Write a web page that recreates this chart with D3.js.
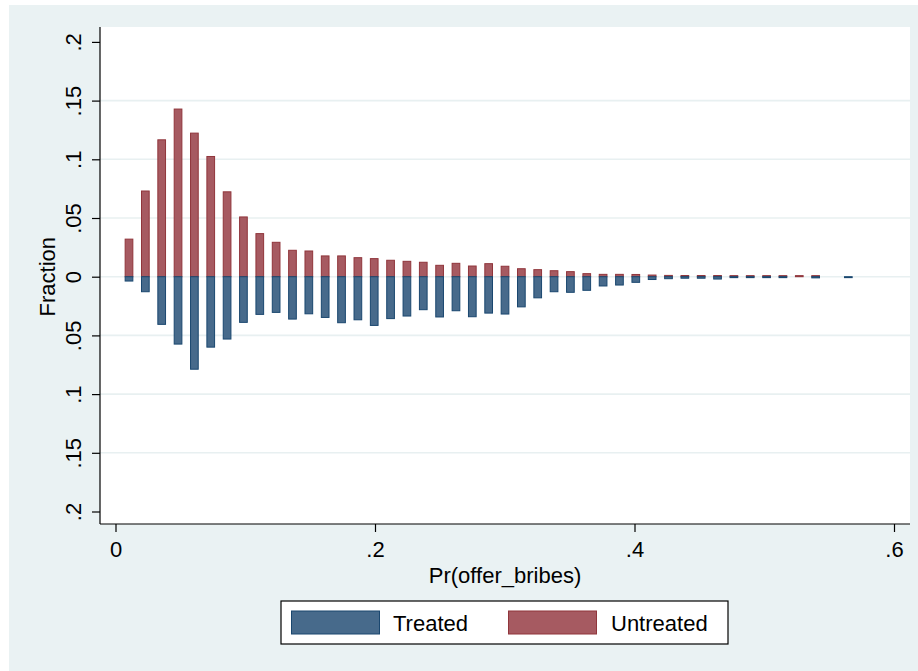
<!DOCTYPE html>
<html>
<head>
<meta charset="utf-8">
<script src="https://cdn.jsdelivr.net/npm/d3@7"></script>
<style>
  html, body { margin: 0; padding: 0; background: #ffffff; }
  svg { display: block; }
  text { font-family: "Liberation Sans", Arial, Helvetica, sans-serif; fill: #000; }
</style>
</head>
<body>
<svg id="chart" width="918" height="671"></svg>
<script>
// Bin midpoints of Pr(offer_bribes)
const binMids = [
  0.0104, 0.0230, 0.0356, 0.0482, 0.0608, 0.0734, 0.0860, 0.0986, 0.1112, 0.1238,
  0.1364, 0.1490, 0.1616, 0.1742, 0.1868, 0.1994, 0.2120, 0.2246, 0.2372, 0.2498,
  0.2624, 0.2750, 0.2876, 0.3002, 0.3128, 0.3254, 0.3380, 0.3506, 0.3632, 0.3758,
  0.3884, 0.4010, 0.4136, 0.4262, 0.4388, 0.4514, 0.4640, 0.4766, 0.4892, 0.5018,
  0.5144, 0.5270, 0.5396, 0.5522, 0.5648
];

// Fraction of untreated observations per bin (drawn above zero)
const untreated = [
  0.0320, 0.0730, 0.1166, 0.1428, 0.1223, 0.1024, 0.0723, 0.0509, 0.0367, 0.0293,
  0.0225, 0.0219, 0.0177, 0.0177, 0.0162, 0.0154, 0.0140, 0.0131, 0.0123, 0.0097,
  0.0114, 0.0091, 0.0111, 0.0089, 0.0068, 0.0060, 0.0051, 0.0043, 0.0026, 0.0020,
  0.0020, 0.0019, 0.0014, 0.0011, 0.0010, 0.0010, 0.0010, 0.0009, 0.0009, 0.0009,
  0.0009, 0.0009, 0.0009, 0.0000, 0.0000
];

// Fraction of treated observations per bin (drawn below zero)
const treated = [
  0.0037, 0.0128, 0.0406, 0.0574, 0.0788, 0.0600, 0.0531, 0.0389, 0.0321, 0.0304,
  0.0361, 0.0316, 0.0347, 0.0392, 0.0367, 0.0415, 0.0357, 0.0335, 0.0281, 0.0343,
  0.0290, 0.0341, 0.0310, 0.0318, 0.0257, 0.0180, 0.0128, 0.0133, 0.0116, 0.0079,
  0.0071, 0.0048, 0.0024, 0.0017, 0.0013, 0.0013, 0.0020, 0.0008, 0.0008, 0.0008,
  0.0008, 0.0000, 0.0010, 0.0000, 0.0008
];

const xTickValues = [0, 0.2, 0.4, 0.6];
const xTickLabels = ["0", ".2", ".4", ".6"];
const yTickValues = [0.2, 0.15, 0.1, 0.05, 0, -0.05, -0.1, -0.15, -0.2];
const yTickLabels = [".2", ".15", ".1", ".05", "0", ".05", ".1", ".15", ".2"];
const gridValues = [0.15, 0.1, 0.05, 0, -0.05, -0.1, -0.15];

const seriesNames = ["Treated", "Untreated"];
const colors = {
  Treated:   { fill: "#476a8b", stroke: "#1a476f" },
  Untreated: { fill: "#a65a61", stroke: "#90353b" }
};

const svg = d3.select("#chart");

// Graph region background
svg.append("rect")
  .attr("x", 9).attr("y", 5).attr("width", 909).attr("height", 666)
  .attr("fill", "#eaf2f3");

// Plot region
const plot = { left: 100, right: 910, top: 27, bottom: 524 };
svg.append("rect")
  .attr("x", plot.left).attr("y", plot.top)
  .attr("width", plot.right - plot.left).attr("height", plot.bottom - plot.top)
  .attr("fill", "#ffffff");

const x = d3.scaleLinear().domain([0, 0.6]).range([115.5, 894]);
const y = d3.scaleLinear().domain([-0.2, 0.2]).range([511.5, 41.9]);

// Horizontal gridlines
svg.append("g").selectAll("line")
  .data(gridValues).join("line")
  .attr("x1", plot.left).attr("x2", plot.right)
  .attr("y1", d => y(d)).attr("y2", d => y(d))
  .attr("stroke", "#e8f0f1").attr("stroke-width", 1.6);

// Bars
const barW = x(0.0067) - x(0);
const bars = svg.append("g");

bars.selectAll("rect.untreated")
  .data(binMids.map((m, i) => ({ m, v: untreated[i] })).filter(d => d.v > 0))
  .join("rect")
  .attr("class", "untreated")
  .attr("x", d => x(d.m) - barW / 2 + 0.5)
  .attr("width", barW - 1)
  .attr("y", d => y(d.v))
  .attr("height", d => Math.max(0.01, y(0) - y(d.v)))
  .attr("fill", colors.Untreated.fill)
  .attr("stroke", colors.Untreated.stroke)
  .attr("stroke-width", 1);

bars.selectAll("rect.treated")
  .data(binMids.map((m, i) => ({ m, v: treated[i] })).filter(d => d.v > 0))
  .join("rect")
  .attr("class", "treated")
  .attr("x", d => x(d.m) - barW / 2 + 0.5)
  .attr("width", barW - 1)
  .attr("y", y(0))
  .attr("height", d => Math.max(0.01, y(-d.v) - y(0)))
  .attr("fill", colors.Treated.fill)
  .attr("stroke", colors.Treated.stroke)
  .attr("stroke-width", 1);

// Y axis
const yAxis = d3.axisLeft(y)
  .tickValues(yTickValues)
  .tickSize(8)
  .tickFormat((d, i) => yTickLabels[i]);
const gy = svg.append("g")
  .attr("transform", `translate(${plot.left},0)`)
  .call(yAxis);
gy.select(".domain").attr("d", `M0,${plot.top}V${plot.bottom}`).attr("stroke", "#000").attr("stroke-width", 1.2);
gy.selectAll(".tick line").attr("stroke", "#000").attr("stroke-width", 1.2);
gy.selectAll(".tick text")
  .attr("x", 0).attr("y", 0).attr("dy", null)
  .attr("transform", "translate(-19.5,0) rotate(-90)")
  .attr("text-anchor", "middle")
  .style("font-size", "22px")
  .style("font-family", "'Liberation Sans', Arial, sans-serif")
  .attr("fill", "#000");

// X axis
const xAxis = d3.axisBottom(x)
  .tickValues(xTickValues)
  .tickSize(8)
  .tickFormat((d, i) => xTickLabels[i]);
const gx = svg.append("g")
  .attr("transform", `translate(0,${plot.bottom})`)
  .call(xAxis);
gx.select(".domain").attr("d", `M${plot.left},0H${plot.right}`).attr("stroke", "#000").attr("stroke-width", 1.2);
gx.selectAll(".tick line").attr("stroke", "#000").attr("stroke-width", 1.2);
gx.selectAll(".tick text")
  .attr("y", 33).attr("dy", null)
  .style("font-size", "22px")
  .style("font-family", "'Liberation Sans', Arial, sans-serif")
  .attr("fill", "#000");

// Axis titles
svg.append("text")
  .attr("x", (plot.left + plot.right) / 2).attr("y", 583)
  .attr("text-anchor", "middle")
  .style("font-size", "22px")
  .text("Pr(offer_bribes)");

svg.append("text")
  .attr("transform", `translate(55,${y(0)}) rotate(-90)`)
  .attr("text-anchor", "middle")
  .style("font-size", "22px")
  .text("Fraction");

// Legend
const legend = svg.append("g");
legend.append("rect")
  .attr("x", 281).attr("y", 601).attr("width", 447).attr("height", 43)
  .attr("fill", "#ffffff").attr("stroke", "#000").attr("stroke-width", 1.2);

const legendItems = [
  { name: seriesNames[0], sx: 291, tx: 393 },
  { name: seriesNames[1], sx: 508, tx: 611 }
];
legendItems.forEach(it => {
  legend.append("rect")
    .attr("x", it.sx + 0.5).attr("y", 611)
    .attr("width", 88).attr("height", 23)
    .attr("fill", colors[it.name].fill)
    .attr("stroke", colors[it.name].stroke).attr("stroke-width", 1);
  legend.append("text")
    .attr("x", it.tx).attr("y", 631)
    .style("font-size", "22px")
    .text(it.name);
});
</script>
</body>
</html>
